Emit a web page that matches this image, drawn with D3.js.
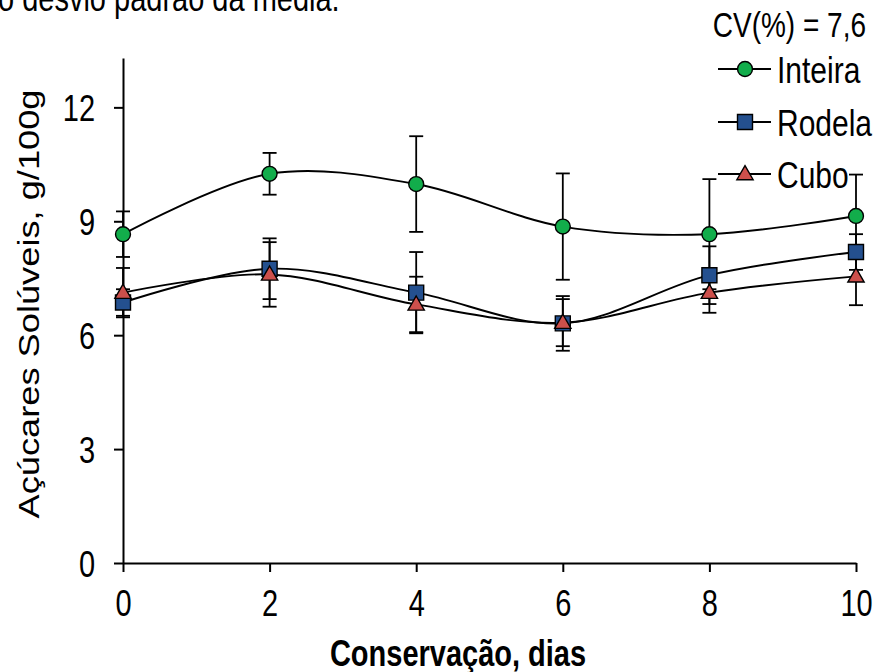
<!DOCTYPE html>
<html>
<head>
<meta charset="utf-8">
<script src="https://cdn.jsdelivr.net/npm/d3@7"></script>
<style>
  body { margin: 0; background: #fff; }
  svg { display: block; font-family: 'Liberation Sans', Arial, sans-serif; }
</style>
</head>
<body>
<div id="chart"></div>
<script>
const days = [0, 2, 4, 6, 8, 10];
const yTicks = [0, 3, 6, 9, 12];
const inteira = [8.66, 10.25, 9.98, 8.86, 8.66, 9.14];
const inteiraErr = [0.6, 0.55, 1.26, 1.4, 1.45, 1.09];
const rodela = [6.86, 7.75, 7.12, 6.31, 7.58, 8.19];
const rodelaErr = [0.35, 0.8, 1.07, 0.72, 0.76, 0.47];
const cubo = [7.12, 7.6, 6.81, 6.33, 7.12, 7.55];
const cuboErr = [0.65, 0.85, 0.73, 0.62, 0.53, 0.76];

const series = [
  { name: 'Inteira', values: inteira, err: inteiraErr, shape: 'circle', color: '#12ad4b' },
  { name: 'Rodela', values: rodela, err: rodelaErr, shape: 'square', color: '#24508f' },
  { name: 'Cubo', values: cubo, err: cuboErr, shape: 'triangle', color: '#cd504c' },
];

const width = 878;
const height = 672;
const margin = { left: 123, right: 22, top: 58, bottom: 109 };
// the source picture is stretched vertically, so text is drawn taller than wide
const STRETCH = 1.25;

const svg = d3.select('#chart')
  .append('svg')
  .attr('width', width)
  .attr('height', height);

const x = d3.scaleLinear().domain([0, 10]).range([margin.left, width - margin.right]);
const y = d3.scaleLinear().domain([0, 13.3]).range([height - margin.bottom, margin.top]);

function stretchedText(px, py, str, size) {
  return svg.append('text')
    .attr('transform', `translate(${px},${py}) scale(1,${STRETCH})`)
    .attr('font-size', size)
    .text(str);
}

// cropped caption line above the chart
stretchedText(-2, 11, 'o desvio padrão da média.', 29);

// Axes
const yAxis = d3.axisLeft(y).tickValues(yTicks).tickSize(9).tickPadding(19).tickSizeOuter(0);
const gy = svg.append('g').attr('transform', `translate(${margin.left},0)`).call(yAxis);
const xAxis = d3.axisBottom(x).tickValues(days).tickSize(9).tickSizeOuter(0);
const gx = svg.append('g').attr('transform', `translate(0,${y(0)})`).call(xAxis);

[gx, gy].forEach((g) => {
  g.select('.domain').attr('stroke', '#000').attr('stroke-width', 2);
  g.selectAll('.tick line').attr('stroke', '#000').attr('stroke-width', 2);
  g.selectAll('.tick text')
    .attr('fill', '#000')
    .attr('font-size', 29)
    .attr('font-family', "'Liberation Sans', Arial, sans-serif")
    .attr('transform', `scale(1,${STRETCH})`);
});
gy.selectAll('.tick text').attr('dy', '0.36em');
gx.selectAll('.tick text').attr('y', 53 / STRETCH).attr('dy', 0);

// Axis titles
stretchedText(458, 666, 'Conservação, dias', 29)
  .attr('text-anchor', 'middle')
  .attr('font-weight', 'bold');

svg.append('text')
  .attr('transform', `translate(39,304) rotate(-90) scale(${STRETCH},1)`)
  .attr('text-anchor', 'middle')
  .attr('font-size', 29)
  .text('Açúcares Solúveis, g/100g');

const line = d3.line()
  .x((d, i) => x(days[i]))
  .y((d) => y(d))
  .curve(d3.curveCatmullRom.alpha(0.5));

const symbolFor = {
  circle: d3.symbol().type(d3.symbolCircle).size(175),
  square: d3.symbol().type(d3.symbolSquare).size(225),
  triangle: d3.symbol().type(d3.symbolTriangle).size(115),
};

// Error bars
series.forEach((s) => {
  const g = svg.append('g').attr('class', 'err');
  s.values.forEach((v, i) => {
    const cx = x(days[i]);
    const y1 = y(v + s.err[i]);
    const y2 = y(v - s.err[i]);
    g.append('line').attr('x1', cx).attr('x2', cx).attr('y1', y1).attr('y2', y2)
      .attr('stroke', '#000').attr('stroke-width', 1.8);
    [y1, y2].forEach((yy) => {
      g.append('line').attr('x1', cx - 7).attr('x2', cx + 7).attr('y1', yy).attr('y2', yy)
        .attr('stroke', '#000').attr('stroke-width', 1.8);
    });
  });
});

// Lines
series.forEach((s) => {
  svg.append('path')
    .datum(s.values)
    .attr('d', line)
    .attr('fill', 'none')
    .attr('stroke', '#000')
    .attr('stroke-width', 1.9);
});

// Markers
series.forEach((s) => {
  svg.append('g')
    .selectAll('path')
    .data(s.values)
    .join('path')
    .attr('transform', (d, i) => `translate(${x(days[i])},${y(d) + (s.shape === 'triangle' ? 1 : 0)})`)
    .attr('d', symbolFor[s.shape])
    .attr('fill', s.color)
    .attr('stroke', '#000')
    .attr('stroke-width', 1.4);
});

// Legend
stretchedText(866, 37, 'CV(%) = 7,6', 28).attr('text-anchor', 'end');

const legend = svg.append('g');
const legendY = [69, 122, 174];
series.forEach((s, i) => {
  const row = legend.append('g').attr('transform', `translate(0,${legendY[i]})`);
  row.append('line').attr('x1', 718).attr('x2', 771).attr('y1', 0).attr('y2', 0)
    .attr('stroke', '#000').attr('stroke-width', 1.8);
  row.append('path')
    .attr('transform', `translate(745,${s.shape === 'triangle' ? 1 : 0})`)
    .attr('d', symbolFor[s.shape])
    .attr('fill', s.color)
    .attr('stroke', '#000')
    .attr('stroke-width', 1.4);
  row.append('text')
    .attr('transform', `translate(777,0) scale(1,${STRETCH})`)
    .attr('dy', '0.36em')
    .attr('font-size', 30)
    .text(s.name);
});
</script>
</body>
</html>
